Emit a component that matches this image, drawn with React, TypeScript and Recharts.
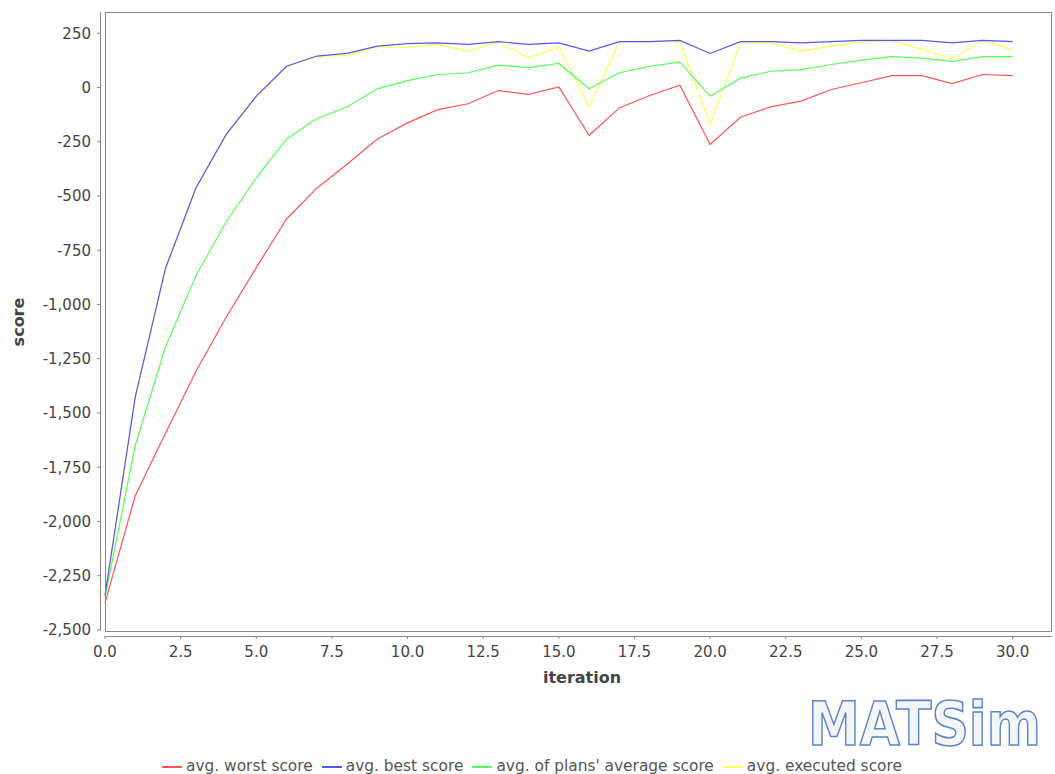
import { LineChart, Line, XAxis, YAxis } from "recharts";

// Score statistics per iteration
const iterations = [
  0, 1, 2, 3, 4, 5, 6, 7, 8, 9, 10, 11, 12, 13, 14, 15, 16, 17, 18, 19, 20, 21, 22, 23, 24, 25, 26, 27, 28, 29, 30,
];
const worstScore = [
  -2375, -1881, -1594, -1310, -1060, -830, -606, -464, -354, -237, -163, -102, -75, -14, -32, 3, -220, -94, -37, 11,
  -263, -137, -89, -63, -9, 22, 55, 55, 18, 60, 55,
];
const bestScore = [
  -2340, -1426, -833, -464, -217, -40, 98, 145, 157, 191, 202, 206, 199, 211, 199, 206, 168, 211, 211, 217, 157, 211,
  211, 206, 211, 217, 217, 217, 206, 217, 211,
];
const plansAverageScore = [
  -2350, -1650, -1195, -869, -620, -416, -237, -143, -90, -6, 32, 60, 68, 103, 92, 111, -6, 68, 98, 117, -40, 43, 75,
  82, 106, 126, 142, 135, 120, 142, 142,
];
const executedScore = [
  -2345, -1430, -838, -468, -222, -45, 95, 142, 148, 186, 186, 199, 168, 211, 137, 186, -89, 211, 211, 211, -171, 206,
  206, 168, 191, 209, 217, 176, 133, 217, 172,
];

const xTicks = [0, 2.5, 5, 7.5, 10, 12.5, 15, 17.5, 20, 22.5, 25, 27.5, 30];
const yTicks = [-2500, -2250, -2000, -1750, -1500, -1250, -1000, -750, -500, -250, 0, 250];

const series = [
  { key: "worst", name: "avg. worst score", color: "#ff5555" },
  { key: "best", name: "avg. best score", color: "#5555ff" },
  { key: "average", name: "avg. of plans' average score", color: "#55ff55" },
  { key: "executed", name: "avg. executed score", color: "#ffff55" },
];

const data = iterations.map((it, i) => ({
  iteration: it,
  worst: worstScore[i],
  best: bestScore[i],
  average: plansAverageScore[i],
  executed: executedScore[i],
}));

const FONT = "'DejaVu Sans', sans-serif";
const W = 1055;
const H = 774;
// plot frame (inside the offset axes)
const PL = 105;
const PT = 12;
const PR = 1052;
const PB = 631;

export default function App() {
  return (
    <div style={{ position: "absolute", left: 0, top: 0, width: W, height: H, background: "#fff", fontFamily: FONT }}>
      <LineChart width={W} height={H} data={data} margin={{ top: PT, right: W - PR, left: 0, bottom: 98 }}>
        <XAxis
          dataKey="iteration"
          type="number"
          domain={[0, 31.3]}
          ticks={xTicks}
          tickFormatter={(v: number) => v.toFixed(1)}
          padding={{ left: 5, right: 0 }}
          height={40}
          axisLine={false}
          tickSize={3}
          tickMargin={7}
          tickLine={{ stroke: "#888" }}
          tick={{ fill: "#444", fontSize: 15, fontFamily: FONT }}
        />
        <YAxis
          type="number"
          domain={[-2505, 348]}
          ticks={yTicks}
          tickFormatter={(v: number) => v.toLocaleString("en-US")}
          padding={{ top: 0, bottom: 5 }}
          width={100}
          axisLine={false}
          tickSize={3}
          tickMargin={6}
          tickLine={{ stroke: "#888" }}
          tick={{ fill: "#444", fontSize: 15, fontFamily: FONT }}
        />
        {/* drawn in reverse so the first series sits on top */}
        {[...series].reverse().map((s) => (
          <Line
            key={s.key}
            dataKey={s.key}
            name={s.name}
            type="linear"
            stroke={s.color}
            strokeWidth={1.2}
            dot={false}
            activeDot={false}
            isAnimationActive={false}
          />
        ))}
      </LineChart>

      <svg width={W} height={H} style={{ position: "absolute", left: 0, top: 0, pointerEvents: "none" }}>
        <rect x={PL + 0.5} y={PT + 0.5} width={PR - PL - 1} height={PB - PT} fill="none" stroke="#888" strokeWidth={1} />
        <line x1={100.5} y1={PT} x2={100.5} y2={PB} stroke="#888" strokeWidth={1} />
        <line x1={PL} y1={636.5} x2={PR} y2={636.5} stroke="#888" strokeWidth={1} />
        <text x={582} y={683} textAnchor="middle" fontFamily={FONT} fontWeight="bold" fontSize={16} fill="#444">
          iteration
        </text>
        <text
          transform="translate(24,322) rotate(-90)"
          textAnchor="middle"
          fontFamily={FONT}
          fontWeight="bold"
          fontSize={16}
          fill="#444"
        >
          score
        </text>
        {/* MATSim logo */}
        <text
          transform="translate(808,745) scale(1,1.17)"
          fontFamily={FONT}
          fontWeight="bold"
          fontSize={52}
          fill="#f3f5f9"
          stroke="#5b86c6"
          strokeWidth={1.4}
        >
          MATSim
        </text>
      </svg>

      <div
        style={{
          position: "absolute",
          left: 0,
          top: 758,
          width: W,
          boxSizing: "border-box",
          paddingLeft: 18,
          display: "flex",
          justifyContent: "center",
          fontSize: 15.4,
          color: "#555",
          lineHeight: "17px",
        }}
      >
        {series.map((s) => (
          <div key={s.key} style={{ display: "flex", alignItems: "center", marginRight: 9 }}>
            <span style={{ display: "inline-block", width: 20, height: 2, background: s.color, marginRight: 4 }} />
            <span>{s.name}</span>
          </div>
        ))}
      </div>
    </div>
  );
}
